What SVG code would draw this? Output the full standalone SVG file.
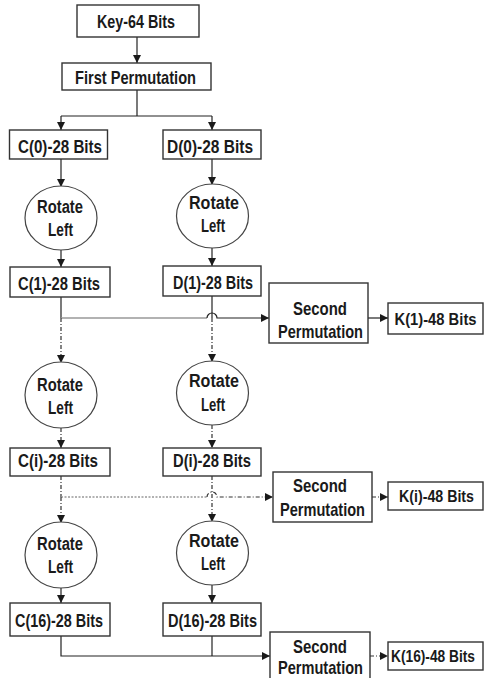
<svg xmlns="http://www.w3.org/2000/svg" width="485" height="678" viewBox="0 0 485 678">
<defs>
<marker id="ah" markerWidth="8" markerHeight="8" refX="8" refY="4" orient="auto" markerUnits="userSpaceOnUse">
<path d="M0,0 L8,4 L0,8 Z" fill="#1a1a1a"/>
</marker>
<style>
.box{fill:#fff;stroke:#333;stroke-width:1.4}
.ell{fill:#fff;stroke:#444;stroke-width:1.2}
.t{font-family:"Liberation Sans Narrow","Liberation Sans",Arial,sans-serif;font-weight:bold;font-size:19px;fill:#1a1a1a}
.k{font-family:"Liberation Sans Narrow","Liberation Sans",Arial,sans-serif;font-weight:bold;font-size:16px;fill:#1a1a1a;text-anchor:middle}
.r{font-family:"Liberation Sans Narrow","Liberation Sans",Arial,sans-serif;font-weight:bold;font-size:18px;fill:#1a1a1a}
.ln{fill:none;stroke:#222;stroke-width:1.2}
.gr{fill:none;stroke:#999;stroke-width:1.6}
.ds{fill:none;stroke:#333;stroke-width:1.2;stroke-dasharray:4 2 1 2}
.dt{fill:none;stroke:#999;stroke-width:1.6;stroke-dasharray:2 1.5}
</style>
</defs>
<g id="connectors">
<path class="ln" d="M137,37 V63" marker-end="url(#ah)"/>
<path class="ln" d="M137,90 V116 M61,116 H212"/>
<path class="ln" d="M61,116 V130" marker-end="url(#ah)"/>
<path class="ln" d="M212,116 V130" marker-end="url(#ah)"/>
<path class="ln" d="M61,159 V187" marker-end="url(#ah)"/>
<path class="ln" d="M212,159 V185" marker-end="url(#ah)"/>
<path class="ln" d="M61,250 V267" marker-end="url(#ah)"/>
<path class="ln" d="M212,248 V266" marker-end="url(#ah)"/>
<path class="ln" d="M61,297 V318"/>
<path class="gr" d="M61,318 H207"/>
<path class="ln" d="M207,318 A5,5 0 0 1 217,318 H269" marker-end="url(#ah)"/>
<path class="ln" d="M212,296 V318"/>
<path class="ds" d="M61,318 V363" marker-end="url(#ah)"/>
<path class="ds" d="M212,318 V362" marker-end="url(#ah)"/>
<path class="ds" d="M61,428 V448" marker-end="url(#ah)"/>
<path class="ds" d="M212,425 V448" marker-end="url(#ah)"/>
<path class="ds" d="M61,476 V497"/>
<path class="dt" d="M61,497 H207"/>
<path class="ds" d="M207,497 A5,5 0 0 1 217,497 H273" marker-end="url(#ah)"/>
<path class="ds" d="M212,476 V522" marker-end="url(#ah)"/>
<path class="ds" d="M61,497 V523" marker-end="url(#ah)"/>
<path class="ln" d="M61,588 V603" marker-end="url(#ah)"/>
<path class="ln" d="M212,585 V603" marker-end="url(#ah)"/>
<path class="ln" d="M61,636 V656 H270" marker-end="url(#ah)"/>
<path class="ln" d="M212,636 V656"/>
<path class="ln" d="M368,318 H388" marker-end="url(#ah)"/>
<path class="ds" d="M372,497 H388" marker-end="url(#ah)"/>
<path class="ds" d="M370,656 H388" marker-end="url(#ah)"/>
</g>
<g id="key"><rect class="box" x="77" y="5" width="122" height="32"/><text class="t" x="97" y="28" textLength="78" lengthAdjust="spacingAndGlyphs">Key-64 Bits</text></g>
<g id="fp"><rect class="box" x="62" y="63" width="149" height="27"/><text class="t" x="75" y="84" textLength="121" lengthAdjust="spacingAndGlyphs">First Permutation</text></g>
<g id="c0"><rect class="box" x="9.5" y="130" width="98" height="29"/><text class="t" x="18" y="152.5" textLength="84" lengthAdjust="spacingAndGlyphs">C(0)-28 Bits</text></g>
<g id="d0"><rect class="box" x="163" y="130" width="98" height="29"/><text class="t" x="167" y="152.5" textLength="86" lengthAdjust="spacingAndGlyphs">D(0)-28 Bits</text></g>
<g id="rc1"><ellipse class="ell" cx="61" cy="218" rx="36" ry="32"/><text class="r" x="37" y="213" textLength="46" lengthAdjust="spacingAndGlyphs">Rotate</text><text class="r" x="48" y="236" textLength="25" lengthAdjust="spacingAndGlyphs">Left</text></g>
<g id="rd1"><ellipse class="ell" cx="212.5" cy="216" rx="36" ry="32"/><text class="r" x="189" y="209" textLength="50" lengthAdjust="spacingAndGlyphs">Rotate</text><text class="r" x="201" y="232" textLength="24" lengthAdjust="spacingAndGlyphs">Left</text></g>
<g id="c1"><rect class="box" x="10" y="267" width="100" height="30"/><text class="t" x="18" y="290" textLength="82" lengthAdjust="spacingAndGlyphs">C(1)-28 Bits</text></g>
<g id="d1"><rect class="box" x="163" y="266" width="98" height="30"/><text class="t" x="173" y="289" textLength="80" lengthAdjust="spacingAndGlyphs">D(1)-28 Bits</text></g>
<g id="sp1"><rect class="box" x="269" y="283" width="99" height="60"/><text class="t" x="293" y="315" textLength="54" lengthAdjust="spacingAndGlyphs">Second</text><text class="t" x="278" y="338" textLength="85" lengthAdjust="spacingAndGlyphs">Permutation</text></g>
<g id="k1"><rect class="box" x="388" y="303" width="95" height="31"/><text class="k" x="435.5" y="325" textLength="82" lengthAdjust="spacingAndGlyphs">K(1)-48 Bits</text></g>
<g id="rc2"><ellipse class="ell" cx="61" cy="395" rx="36" ry="33"/><text class="r" x="37" y="391" textLength="46" lengthAdjust="spacingAndGlyphs">Rotate</text><text class="r" x="48" y="414" textLength="25" lengthAdjust="spacingAndGlyphs">Left</text></g>
<g id="rd2"><ellipse class="ell" cx="212.5" cy="393" rx="36" ry="32"/><text class="r" x="189" y="387" textLength="50" lengthAdjust="spacingAndGlyphs">Rotate</text><text class="r" x="201" y="411" textLength="24" lengthAdjust="spacingAndGlyphs">Left</text></g>
<g id="ci"><rect class="box" x="10" y="448" width="100" height="28"/><text class="t" x="18" y="467" textLength="80" lengthAdjust="spacingAndGlyphs">C(i)-28 Bits</text></g>
<g id="di"><rect class="box" x="163" y="448" width="98" height="28"/><text class="t" x="173" y="467" textLength="78" lengthAdjust="spacingAndGlyphs">D(i)-28 Bits</text></g>
<g id="sp2"><rect class="box" x="273" y="472" width="99" height="50"/><text class="t" x="293" y="492" textLength="54" lengthAdjust="spacingAndGlyphs">Second</text><text class="t" x="280" y="516" textLength="85" lengthAdjust="spacingAndGlyphs">Permutation</text></g>
<g id="ki"><rect class="box" x="388" y="482" width="95" height="28"/><text class="k" x="436.5" y="502" textLength="75" lengthAdjust="spacingAndGlyphs">K(i)-48 Bits</text></g>
<g id="rc3"><ellipse class="ell" cx="61" cy="555" rx="36" ry="33"/><text class="r" x="37" y="550" textLength="46" lengthAdjust="spacingAndGlyphs">Rotate</text><text class="r" x="48" y="573" textLength="25" lengthAdjust="spacingAndGlyphs">Left</text></g>
<g id="rd3"><ellipse class="ell" cx="212.5" cy="553" rx="36" ry="32"/><text class="r" x="189" y="547" textLength="50" lengthAdjust="spacingAndGlyphs">Rotate</text><text class="r" x="201" y="570" textLength="24" lengthAdjust="spacingAndGlyphs">Left</text></g>
<g id="c16"><rect class="box" x="10" y="603" width="100" height="33"/><text class="t" x="15" y="627" textLength="88" lengthAdjust="spacingAndGlyphs">C(16)-28 Bits</text></g>
<g id="d16"><rect class="box" x="163" y="603" width="98" height="33"/><text class="t" x="168" y="627" textLength="89" lengthAdjust="spacingAndGlyphs">D(16)-28 Bits</text></g>
<g id="sp3"><rect class="box" x="270" y="632" width="100" height="60"/><text class="t" x="293" y="653" textLength="54" lengthAdjust="spacingAndGlyphs">Second</text><text class="t" x="278" y="674" textLength="85" lengthAdjust="spacingAndGlyphs">Permutation</text></g>
<g id="k16"><rect class="box" x="388" y="642" width="95" height="28"/><text class="k" x="433" y="662" font-size="14" textLength="84" lengthAdjust="spacingAndGlyphs">K(16)-48 Bits</text></g>
</svg>
